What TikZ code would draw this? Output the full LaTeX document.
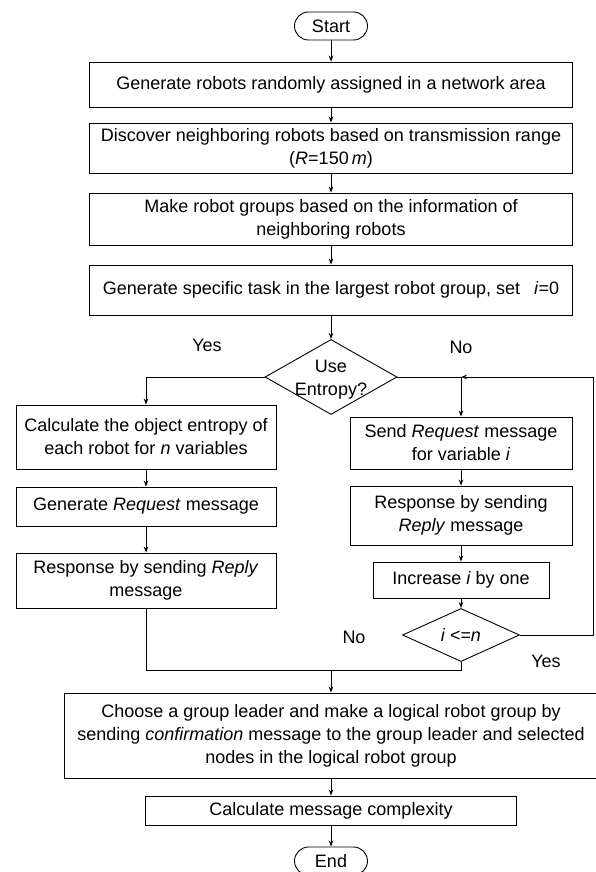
\documentclass[tikz,border=0pt]{standalone}
\usepackage{fontspec}
\setmainfont{Liberation Sans}
\usetikzlibrary{arrows.meta,shapes.geometric}
\tikzset{
	>={Stealth[length=6pt,width=4.5pt]},
	stepbox/.style n args={2}{draw, line width=0.9pt, align=center, inner sep=0pt,
			minimum width=#1, minimum height=#2},
	terminal/.style={draw, line width=0.9pt, rounded corners=14pt, inner sep=0pt,
			minimum width=73pt, minimum height=28pt},
	decision/.style n args={2}{draw, diamond, line width=0.9pt, inner sep=0pt,
			minimum width=#1, minimum height=#2},
	flow/.style={->, line width=0.9pt}
}

\begin{document}
\begin{tikzpicture}[x=1pt, y=-1pt, font=\fontsize{18}{23}\selectfont]
		\useasboundingbox (0,0) rectangle (595,872);
		% main column
		\node[terminal] (start) at (331,26) {Start};
		\node[stepbox={483pt}{45pt}] (genrobots) at (331,84.5) {Generate robots randomly assigned in a network area};
		\node[stepbox={483pt}{50pt}] (discover) at (331,148) {Discover neighboring robots based on transmission range\\(\textit{R}=150\,\textit{m})};
		\node[stepbox={483pt}{52pt}] (mkgroups) at (331,219) {Make robot groups based on the information of\\neighboring robots};
		\node[stepbox={483pt}{50pt}] (gentask) at (331,290) {Generate specific task in the largest robot group, set\enspace\ \textit{i}=0};
		\node[decision={132pt}{75pt}] (useent) at (331,377) {};
		\node[align=center, inner sep=0pt] (useenttxt) at (331,380) {Use\\Entropy?};
		\node (yes1) at (207,345) {Yes};
		\node (no1) at (461,347) {No};
		% entropy branch
		\node[stepbox={260pt}{64pt}] (calcent) at (146,437) {Calculate the object entropy of\\each robot for \textit{n} variables};
		\node[stepbox={260pt}{39pt}] (genreq) at (146,506.5) {Generate \textit{Request} message};
		\node[stepbox={260pt}{55pt}] (replyl) at (146,580.5) {Response by sending \textit{Reply}\\message};
		% variable branch
		\node[stepbox={222pt}{52pt}] (sendreq) at (461,443) {Send \textit{Request} message\\for variable \textit{i}};
		\node[stepbox={222pt}{59pt}] (replyr) at (461,515.5) {Response by sending\\\textit{Reply} message};
		\node[stepbox={176pt}{36pt}] (incr) at (461,580) {Increase \textit{i} by one};
		\node[decision={117pt}{35pt}] (cond) at (461,635) {\textit{i <=n}};
		\node (no2) at (354,637) {No};
		\node (yes2) at (546,661) {Yes};
		% end part
		\node[stepbox={534pt}{85pt}] (choose) at (331,735.5) {Choose a group leader and make a logical robot group by\\sending \textit{confirmation} message to the group leader and selected\\nodes in the logical robot group};
		\node[stepbox={371pt}{29pt}] (msgcplx) at (331,810.5) {Calculate message complexity};
		\node[terminal] (end) at (331,861) {End};
		\coordinate (j1) at (461,377);
		\coordinate (loop) at (593,635);
		\coordinate (j2) at (331,670);

		\draw[flow] (start) -- (genrobots);
		\draw[flow] (genrobots) -- (discover);
		\draw[flow] (discover) -- (mkgroups);
		\draw[flow] (mkgroups) -- (gentask);
		\draw[flow] (gentask) -- (useent.north);
		\draw[flow] (useent.west) -| (calcent);
		\draw[line width=0.9pt] (useent.east) -- (j1);
		\draw[flow] (j1) -- (sendreq);
		\draw[flow] (calcent) -- (genreq);
		\draw[flow] (genreq) -- (replyl);
		\draw[flow] (sendreq) -- (replyr);
		\draw[flow] (replyr) -- (incr);
		\draw[flow] (incr) -- (cond.north);
		\draw[flow] (cond.east) -- (loop) |- (j1);
		\draw[line width=0.9pt] (replyl.south) |- (j2);
		\draw[line width=0.9pt] (cond.south) |- (j2);
		\draw[flow] (j2) -- (choose);
		\draw[flow] (choose) -- (msgcplx);
		\draw[flow] (msgcplx) -- (end);
	\end{tikzpicture}
\end{document}
